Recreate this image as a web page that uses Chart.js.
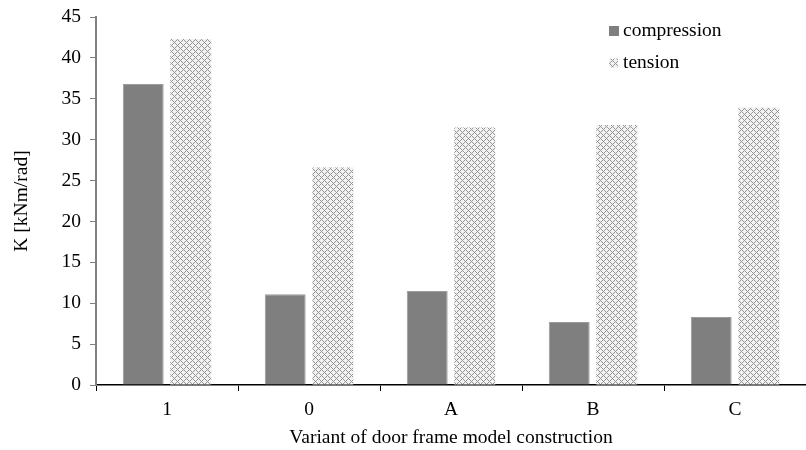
<!DOCTYPE html>
<html>
<head>
<meta charset="utf-8">
<script src="https://cdn.jsdelivr.net/npm/chart.js@4.4.1/dist/chart.umd.min.js"></script>
<style>
  html, body { margin: 0; padding: 0; background: #fff; }
  #wrap { width: 806px; height: 450px; }
</style>
</head>
<body>
<div id="wrap"><canvas id="stiffChart" width="806" height="450"></canvas></div>
<script>
const variants = ["1", "0", "A", "B", "C"];
const compression = [36.8, 11.1, 11.5, 7.7, 8.3];
const tension = [42.3, 26.6, 31.5, 31.8, 33.9];
const yTicks = [0, 5, 10, 15, 20, 25, 30, 35, 40, 45];

const serif = "'Liberation Serif', 'DejaVu Serif', serif";
const fontSize = 19.5;

function makeHatch() {
  const size = 6;
  const c = document.createElement("canvas");
  c.width = size;
  c.height = size;
  const ctx = c.getContext("2d");
  ctx.fillStyle = "#f2f2f2";
  ctx.fillRect(0, 0, size, size);
  ctx.fillStyle = "#959595";
  for (let x = 0; x < size; x++) {
    for (let y = 0; y < size; y++) {
      if ((x + y) % size === 0 || (x - y + size) % size === 0) {
        ctx.fillRect(x, y, 1, 1);
      }
    }
  }
  return ctx.createPattern(c, "repeat");
}

const hatch = makeHatch();

// legend drawn in the top right corner of the plot, stacked vertically
const cornerLegend = {
  id: "cornerLegend",
  afterDraw(chart) {
    const ctx = chart.ctx;
    const items = [
      { text: "compression", fill: "#7f7f7f", box: 10 },
      { text: "tension", fill: hatch, box: 9 },
    ];
    ctx.save();
    ctx.font = fontSize + "px " + serif;
    ctx.textBaseline = "middle";
    items.forEach((item, i) => {
      const y = 31 + i * 32;
      ctx.fillStyle = item.fill;
      ctx.fillRect(609, y - item.box / 2, item.box, item.box);
      ctx.fillStyle = "#000";
      ctx.fillText(item.text, 623, y);
    });
    ctx.restore();
  },
};

new Chart(document.getElementById("stiffChart"), {
  type: "bar",
  data: {
    labels: variants,
    datasets: [
      {
        label: "compression",
        data: compression,
        backgroundColor: "#7f7f7f",
        borderColor: "#9c9c9c",
        borderWidth: 1,
        categoryPercentage: 0.67,
        barPercentage: 0.86,
      },
      {
        label: "tension",
        data: tension,
        backgroundColor: hatch,
        borderWidth: 0,
        categoryPercentage: 0.67,
        barPercentage: 0.86,
      },
    ],
  },
  options: {
    responsive: false,
    animation: false,
    layout: { padding: { top: 17, right: 0, left: 0, bottom: 0 } },
    plugins: {
      legend: { display: false },
      tooltip: { enabled: false },
    },
    scales: {
      x: {
        offset: true,
        grid: {
          offset: true,
          drawOnChartArea: false,
          drawTicks: true,
          tickLength: 6,
          color: "#000",
        },
        border: { color: "#000", width: 1.5 },
        ticks: {
          color: "#000",
          padding: 7,
          font: { family: serif, size: fontSize },
        },
        title: {
          display: true,
          text: "Variant of door frame model construction",
          color: "#000",
          padding: { top: 4, bottom: 0 },
          font: { family: serif, size: fontSize },
        },
        afterFit(scale) {
          scale.height = 65;
          scale.paddingLeft = 0;
          scale.paddingRight = 0;
        },
      },
      y: {
        min: 0,
        max: 45,
        afterBuildTicks(scale) {
          scale.ticks = yTicks.map((v) => ({ value: v }));
        },
        grid: {
          drawOnChartArea: false,
          drawTicks: true,
          tickLength: 6,
          color: "#808080",
        },
        border: { color: "#808080", width: 2 },
        ticks: {
          color: "#000",
          padding: 9,
          font: { family: serif, size: fontSize },
        },
        title: {
          display: true,
          text: "K [kNm/rad]",
          color: "#000",
          padding: { top: 10, bottom: 4 },
          font: { family: serif, size: fontSize },
        },
        afterFit(scale) {
          scale.width = 96;
          scale.paddingTop = 0;
          scale.paddingBottom = 0;
        },
      },
    },
  },
  plugins: [cornerLegend],
});
</script>
</body>
</html>
